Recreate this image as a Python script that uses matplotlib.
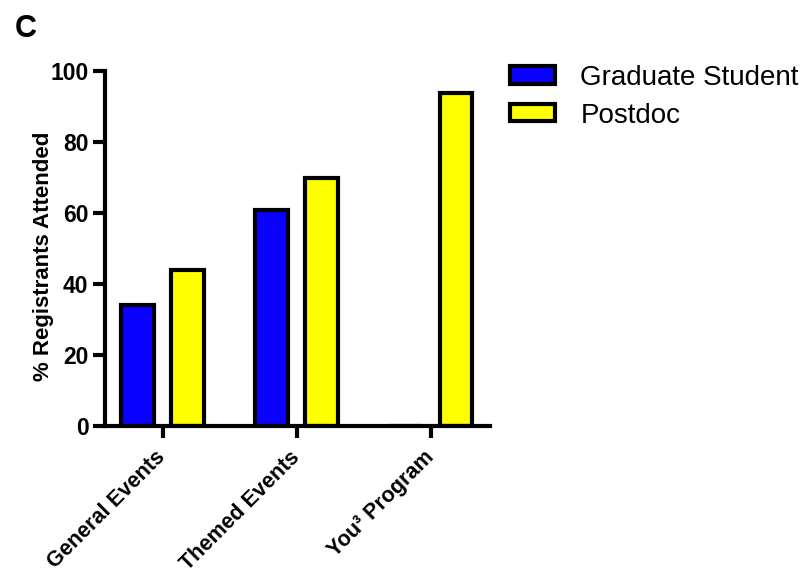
import numpy as np
import matplotlib
matplotlib.use('Agg')
import matplotlib.pyplot as plt

plt.rcParams['font.family'] = ['Liberation Sans', 'DejaVu Sans']

# attendance data
categories = ['General Events', 'Themed Events', 'You³ Program']
grad_student = [34, 61, 0]
postdoc = [44, 70, 94]

fig = plt.figure(figsize=(8.12, 5.78), dpi=100)
ax = fig.add_axes([0.1287, 0.263, 0.4747, 0.6133])

x = np.arange(len(categories))
w = 0.245
off = 0.187
ax.bar(x - off, grad_student, w, color='#0a00ff', edgecolor='black', linewidth=3,
       label='Graduate Student')
ax.bar(x + off, postdoc, w, color='#ffff00', edgecolor='black', linewidth=3,
       label='Postdoc')

ax.set_xlim(-0.433, 2.44)
ax.set_ylim(0, 100)
ax.set_yticks([0, 20, 40, 60, 80, 100])
ax.set_xticks(x)
ax.set_xticklabels(categories, rotation=45, ha='right', va='center',
                   rotation_mode='anchor', fontsize=15.5, fontweight='bold')
for lbl in ax.get_yticklabels():
    lbl.set_fontweight('bold')
ax.tick_params(axis='y', labelsize=16.5, width=3, length=8.5, direction='out', pad=3)
ax.tick_params(axis='x', width=3, length=8.5, direction='out', pad=12)

for s in ['top', 'right']:
    ax.spines[s].set_visible(False)
for s in ['left', 'bottom']:
    ax.spines[s].set_linewidth(3)

ax.set_ylabel('% Registrants Attended', fontsize=16, fontweight='bold')
ax.yaxis.set_label_coords(-0.13, 0.48)

ax.legend(loc='upper left', bbox_to_anchor=(1.022, 1.05), borderaxespad=0,
          frameon=False, fontsize=20, handlelength=1.65, handleheight=0.58,
          handletextpad=0.9, labelspacing=0.42)

fig.text(0.018, 0.950, 'C', fontsize=22, fontweight='bold', va='center')

fig.savefig('out.png', dpi=100)
